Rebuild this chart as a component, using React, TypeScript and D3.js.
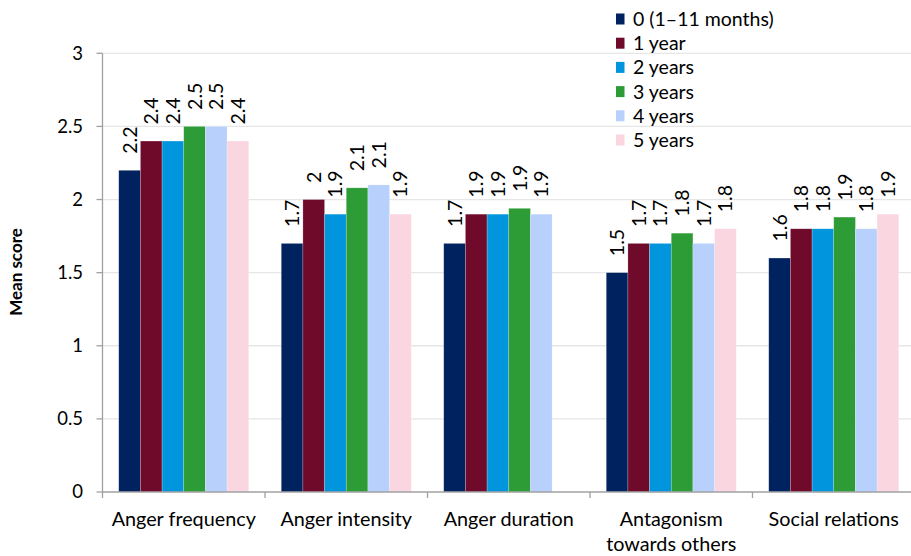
import React from "react";
import * as d3 from "d3";

const categories = ["Anger frequency", "Anger intensity", "Anger duration", "Antagonism towards others", "Social relations"];
const categoryLines = [["Anger frequency"], ["Anger intensity"], ["Anger duration"], ["Antagonism", "towards others"], ["Social relations"]];
const seriesNames = ["0 (1–11 months)", "1 year", "2 years", "3 years", "4 years", "5 years"];
const seriesColors = ["#00235f", "#6f0a2b", "#0095dc", "#2e9c36", "#b7d1fc", "#fad6e0"];
// values per series across categories; null = no bar
const age0 = [2.2, 1.7, 1.7, 1.5, 1.6];
const age1 = [2.4, 2.0, 1.9, 1.7, 1.8];
const age2 = [2.4, 1.9, 1.9, 1.7, 1.8];
const age3 = [2.5, 2.08, 1.94, 1.77, 1.88];
const age4 = [2.5, 2.1, 1.9, 1.7, 1.8];
const age5: (number | null)[] = [2.4, 1.9, null, 1.8, 1.9];
const labels0 = ["2.2", "1.7", "1.7", "1.5", "1.6"];
const labels1 = ["2.4", "2", "1.9", "1.7", "1.8"];
const labels2 = ["2.4", "1.9", "1.9", "1.7", "1.8"];
const labels3 = ["2.5", "2.1", "1.9", "1.8", "1.9"];
const labels4 = ["2.5", "2.1", "1.9", "1.7", "1.8"];
const labels5 = ["2.4", "1.9", "", "1.8", "1.9"];
const yTicks = [0, 0.5, 1, 1.5, 2, 2.5, 3];

const series = [age0, age1, age2, age3, age4, age5];
const seriesLabels = [labels0, labels1, labels2, labels3, labels4, labels5];

const W = 911, H = 556;
const x0 = 102.5, x1 = 915;
const yTop = 53.3, yBottom = 492;
const font = "Lato, 'Open Sans', sans-serif";

export default function App() {
  const x = d3.scaleBand<string>().domain(categories).range([x0, x1]).paddingInner(0).paddingOuter(0);
  // each group = 6 bars + 1.5 bar widths of gap
  const barW = x.bandwidth() / 7.5;
  const y = d3.scaleLinear().domain([0, 3]).range([yBottom, yTop]);

  return (
    <svg width={W} height={H} style={{ position: "absolute", left: 0, top: 0, background: "#fff" }} fontFamily={font}>
      {yTicks.filter(t => t > 0).map(t => (
        <line key={"g" + t} x1={x0} x2={W} y1={y(t)} y2={y(t)} stroke="#e6e6e6" strokeWidth={1.3} />
      ))}
      {series.map((vals, si) =>
        vals.map((v, ci) => {
          if (v === null) return null;
          const bx = (x(categories[ci]) as number) + 0.75 * barW + si * barW;
          return (
            <rect key={`b${si}-${ci}`} x={bx} y={y(v)} width={barW} height={yBottom - y(v)} fill={seriesColors[si]} stroke="#ffffff" strokeOpacity={0.35} strokeWidth={0.6} />
          );
        })
      )}
      {series.map((vals, si) =>
        vals.map((v, ci) => {
          if (v === null) return null;
          const cx = (x(categories[ci]) as number) + 0.75 * barW + si * barW + barW / 2;
          const ty = y(v) - 16.5;
          return (
            <text key={`l${si}-${ci}`} transform={`translate(${cx},${ty}) rotate(-90)`} textAnchor="start" dy="0.36em" fontSize={19.5} fill="#000">
              {seriesLabels[si][ci]}
            </text>
          );
        })
      )}
      <line x1={x0} x2={x0} y1={yTop} y2={yBottom} stroke="#a0a0a0" strokeWidth={1.3} />
      {yTicks.map(t => (
        <g key={"t" + t}>
          <line x1={x0 - 6} x2={x0} y1={y(t)} y2={y(t)} stroke="#a0a0a0" strokeWidth={1.3} />
          <text x={83} y={y(t)} dy="0.35em" textAnchor="end" fontSize={18.5} fill="#000">{t}</text>
        </g>
      ))}
      <line x1={x0} x2={W} y1={yBottom} y2={yBottom} stroke="#a0a0a0" strokeWidth={1.3} />
      {categories.map((c, i) => (
        <line key={"xt" + i} x1={x(c) as number} x2={x(c) as number} y1={yBottom} y2={yBottom + 6} stroke="#a0a0a0" strokeWidth={1.3} />
      ))}
      {categories.map((c, i) => (
        <text key={"xl" + i} x={(x(c) as number) + x.bandwidth() / 2} y={526} textAnchor="middle" fontSize={19.8} fill="#000">
          {categoryLines[i].map((ln, k) => (
            <tspan key={k} x={(x(c) as number) + x.bandwidth() / 2} dy={k === 0 ? 0 : 25}>{ln}</tspan>
          ))}
        </text>
      ))}
      <text transform={`translate(22,272) rotate(-90)`} textAnchor="middle" fontSize={17} fontWeight="bold" fill="#000">Mean score</text>
      {seriesNames.map((n, i) => {
        const cy = 19 + i * 24.2;
        return (
          <g key={"lg" + i}>
            <rect x={616} y={cy - 5.5} width={8.5} height={11} fill={seriesColors[i]} />
            <text x={633} y={cy} dy="0.36em" fontSize={19.5} fill="#000">{n}</text>
          </g>
        );
      })}
    </svg>
  );
}
